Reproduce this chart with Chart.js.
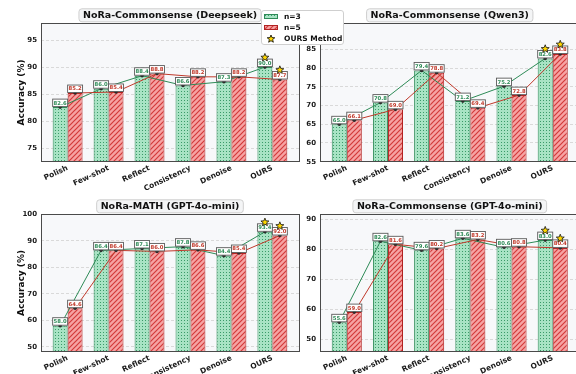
<!DOCTYPE html>
<html>
<head>
<meta charset="utf-8">
<script src="https://cdn.jsdelivr.net/npm/chart.js@4.4.1/dist/chart.umd.min.js"></script>
<style>
  html, body { margin: 0; padding: 0; background: #fff; width: 576px; height: 374px; overflow: hidden; position: relative; font-family: "DejaVu Sans", sans-serif; }
  canvas.panel { position: absolute; }
  #legend { position: absolute; left: 261px; top: 10px; width: 83px; height: 35px; box-sizing: border-box; background: #fff; border: 1px solid #cfcfcf; border-radius: 3px; z-index: 5; }
  #legend .row { position: absolute; left: 0; height: 10px; width: 100%; }
  #legend .sw { position: absolute; left: 2px; top: 2px; }
  #legend svg { position: absolute; left: 4px; top: 0px; }
  #legend span { position: absolute; left: 22px; top: -1px; font: bold 7.5px "DejaVu Sans", sans-serif; color: #111; line-height: 12px; white-space: nowrap; }
</style>
</head>
<body>
<canvas class="panel" id="c1"></canvas>
<canvas class="panel" id="c2"></canvas>
<canvas class="panel" id="c3"></canvas>
<canvas class="panel" id="c4"></canvas>
<div id="legend">
  <div class="row" style="top:1px"><canvas class="sw" id="swG" width="14" height="5"></canvas><span>n=3</span></div>
  <div class="row" style="top:12px"><canvas class="sw" id="swR" width="14" height="5"></canvas><span>n=5</span></div>
  <div class="row" style="top:23px"><svg width="10" height="10" viewBox="-5 -5 10 10"><polygon id="legendStar" fill="#FFD700" stroke="#000" stroke-width="0.8"></polygon></svg><span>OURS Method</span></div>
</div>
<script>
// Methods compared in every panel
const categories = ['Polish', 'Few-shot', 'Reflect', 'Consistency', 'Denoise', 'OURS'];
const seriesNames = ['n=3', 'n=5'];

// NoRa-Commonsense (Deepseek)
const deepseekN3 = [82.6, 86.0, 88.4, 86.6, 87.3, 90.0];
const deepseekN5 = [85.2, 85.4, 88.8, 88.2, 88.2, 87.7];
const deepseekTicks = [75, 80, 85, 90, 95];

// NoRa-Commonsense (Qwen3)
const qwenN3 = [65.0, 70.8, 79.4, 71.2, 75.2, 82.6];
const qwenN5 = [66.1, 69.0, 78.8, 69.4, 72.8, 83.8];
const qwenTicks = [55, 60, 65, 70, 75, 80, 85];

// NoRa-MATH (GPT-4o-mini)
const mathN3 = [58.0, 86.4, 87.1, 87.8, 84.4, 93.4];
const mathN5 = [64.6, 86.4, 86.0, 86.6, 85.4, 92.0];
const mathTicks = [50, 60, 70, 80, 90, 100];

// NoRa-Commonsense (GPT-4o-mini)
const gptN3 = [55.6, 82.6, 79.6, 83.6, 80.6, 83.0];
const gptN5 = [59.0, 81.6, 80.2, 83.2, 80.8, 80.4];
const gptTicks = [50, 60, 70, 80, 90];

const FONT = '"DejaVu Sans", sans-serif';
const GREEN = '#2e8b57';
const RED = '#c0392b';

// Dotted hatch for n=3 bars
function greenPattern() {
  const t = document.createElement('canvas');
  t.width = 3; t.height = 3;
  const g = t.getContext('2d');
  g.fillStyle = '#a8e3c4'; g.fillRect(0, 0, 3, 3);
  g.fillStyle = '#3a9a68'; g.fillRect(1, 1, 1, 1);
  return g.createPattern(t, 'repeat');
}
// Diagonal hatch for n=5 bars
function redPattern() {
  const t = document.createElement('canvas');
  t.width = 5; t.height = 5;
  const g = t.getContext('2d');
  g.fillStyle = '#f6a3a3'; g.fillRect(0, 0, 5, 5);
  g.strokeStyle = '#d23b3b'; g.lineWidth = 1.2;
  g.beginPath();
  g.moveTo(-1, 6); g.lineTo(6, -1);
  g.moveTo(-1, 1); g.lineTo(1, -1);
  g.moveTo(4, 6); g.lineTo(6, 4);
  g.stroke();
  return g.createPattern(t, 'repeat');
}

function starPath(ctx, cx, cy, ro, ri) {
  ctx.beginPath();
  for (let k = 0; k < 10; k++) {
    const r = k % 2 ? ri : ro;
    const a = -Math.PI / 2 + k * Math.PI / 5;
    const px = cx + r * Math.cos(a), py = cy + r * Math.sin(a);
    k ? ctx.lineTo(px, py) : ctx.moveTo(px, py);
  }
  ctx.closePath();
}

function roundRect(ctx, x, y, w, h, r) {
  ctx.beginPath();
  ctx.moveTo(x + r, y);
  ctx.lineTo(x + w - r, y); ctx.quadraticCurveTo(x + w, y, x + w, y + r);
  ctx.lineTo(x + w, y + h - r); ctx.quadraticCurveTo(x + w, y + h, x + w - r, y + h);
  ctx.lineTo(x + r, y + h); ctx.quadraticCurveTo(x, y + h, x, y + h - r);
  ctx.lineTo(x, y + r); ctx.quadraticCurveTo(x, y, x + r, y);
  ctx.closePath();
}

// Plot background, trend lines, value boxes, stars, frame and boxed title
function decorPlugin(title) {
  const lineColors = [GREEN, RED];
  const textColors = ['#2e8b57', '#c0392b'];
  return {
    id: 'decor',
    beforeDraw(chart) {
      const { ctx, chartArea: a } = chart;
      ctx.save();
      ctx.fillStyle = '#f7f8fa';
      ctx.fillRect(a.left, a.top, a.right - a.left, a.bottom - a.top);
      ctx.restore();
    },
    afterDatasetsDraw(chart) {
      const ctx = chart.ctx;
      ctx.save();
      // trend lines through the bar tops
      [0, 1].forEach(d => {
        const bars = chart.getDatasetMeta(d).data;
        ctx.strokeStyle = lineColors[d];
        ctx.lineWidth = 1;
        ctx.beginPath();
        bars.forEach((b, i) => i ? ctx.lineTo(b.x, b.y) : ctx.moveTo(b.x, b.y));
        ctx.stroke();
        bars.forEach(b => {
          ctx.beginPath();
          ctx.arc(b.x, b.y, 1.8, 0, Math.PI * 2);
          ctx.fillStyle = '#2a2a2a';
          ctx.fill();
        });
      });
      // value boxes
      [0, 1].forEach(d => {
        const bars = chart.getDatasetMeta(d).data;
        const vals = chart.data.datasets[d].data;
        bars.forEach((b, i) => {
          const w = b.width, h = 7.5;
          const x0 = b.x - w / 2, y0 = b.y - 0.5 - h;
          ctx.fillStyle = '#ffffff';
          ctx.fillRect(x0, y0, w, h);
          ctx.strokeStyle = '#5a5a5a';
          ctx.lineWidth = 0.9;
          ctx.strokeRect(x0, y0, w, h);
          ctx.fillStyle = textColors[d];
          ctx.font = 'bold 5.3px ' + FONT;
          ctx.textAlign = 'center';
          ctx.textBaseline = 'middle';
          ctx.fillText(vals[i].y.toFixed(1), b.x, y0 + h / 2 + 0.3);
          // star over the proposed method
          if (categories[vals[i].x] === 'OURS') {
            starPath(ctx, b.x, y0 - 1.5, 4.2, 1.8);
            ctx.fillStyle = '#FFD700';
            ctx.fill();
            ctx.strokeStyle = '#111';
            ctx.lineWidth = 0.8;
            ctx.stroke();
          }
        });
      });
      ctx.restore();
    },
    afterDraw(chart) {
      const { ctx, chartArea: a } = chart;
      ctx.save();
      ctx.strokeStyle = '#4a4a4a';
      ctx.lineWidth = 1;
      ctx.strokeRect(Math.round(a.left) + 0.5, Math.round(a.top) + 0.5,
                     Math.round(a.right - a.left), Math.round(a.bottom - a.top));
      ctx.font = 'bold 9.5px ' + FONT;
      const tw = ctx.measureText(title).width;
      const cx = (a.left + a.right) / 2, cy = a.top - 8;
      roundRect(ctx, cx - tw / 2 - 4, cy - 6.5, tw + 8, 13, 3);
      ctx.fillStyle = '#f4f5f6';
      ctx.fill();
      ctx.strokeStyle = '#cfcfcf';
      ctx.lineWidth = 1;
      ctx.stroke();
      ctx.fillStyle = '#111';
      ctx.textAlign = 'center';
      ctx.textBaseline = 'middle';
      ctx.fillText(title, cx, cy + 0.5);
      ctx.restore();
    }
  };
}

const panels = [
  { id: 'c1', title: 'NoRa-Commonsense (Deepseek)', n3: deepseekN3, n5: deepseekN5, ticks: deepseekTicks,
    yMin: 72.5, yMax: 98.1, yTitle: true,
    box: { left: 0, top: 0, w: 300, h: 192 }, area: { l: 41, t: 23.3, r: 299, b: 161.7 } },
  { id: 'c2', title: 'NoRa-Commonsense (Qwen3)', n3: qwenN3, n5: qwenN5, ticks: qwenTicks,
    yMin: 55, yMax: 92, yTitle: false,
    box: { left: 290, top: 0, w: 300, h: 192 }, area: { l: 320, t: 23.3, r: 579.5, b: 161.7 } },
  { id: 'c3', title: 'NoRa-MATH (GPT-4o-mini)', n3: mathN3, n5: mathN5, ticks: mathTicks,
    yMin: 48.2, yMax: 100, yTitle: true,
    box: { left: 0, top: 187, w: 300, h: 187 }, area: { l: 41, t: 214.3, r: 299, b: 351.7 } },
  { id: 'c4', title: 'NoRa-Commonsense (GPT-4o-mini)', n3: gptN3, n5: gptN5, ticks: gptTicks,
    yMin: 45.8, yMax: 91.6, yTitle: false,
    box: { left: 290, top: 187, w: 300, h: 187 }, area: { l: 320, t: 214.3, r: 579.5, b: 351.7 } }
];

const gPat = greenPattern();
const rPat = redPattern();

panels.forEach(p => {
  const cv = document.getElementById(p.id);
  cv.width = p.box.w; cv.height = p.box.h;
  cv.style.left = p.box.left + 'px'; cv.style.top = p.box.top + 'px';
  const toPoints = arr => arr.map((v, i) => ({ x: i, y: v }));
  new Chart(cv.getContext('2d'), {
    type: 'bar',
    data: {
      datasets: [
        { label: seriesNames[0], data: toPoints(p.n3), backgroundColor: gPat, borderColor: GREEN,
          borderWidth: 1, borderSkipped: false, categoryPercentage: 0.73, barPercentage: 1.0 },
        { label: seriesNames[1], data: toPoints(p.n5), backgroundColor: rPat, borderColor: '#b22222',
          borderWidth: 1, borderSkipped: false, categoryPercentage: 0.73, barPercentage: 1.0 }
      ]
    },
    options: {
      responsive: false,
      animation: false,
      devicePixelRatio: 1,
      layout: {
        autoPadding: false,
        padding: { left: 0, top: p.area.t - p.box.top, right: p.box.left + p.box.w - p.area.r, bottom: 0 }
      },
      plugins: { legend: { display: false }, tooltip: { enabled: false }, title: { display: false } },
      scales: {
        x: {
          type: 'linear', min: -0.65, max: categories.length - 0.35, offset: false,
          grid: { display: false, drawTicks: false }, border: { display: false },
          afterBuildTicks: s => { s.ticks = categories.map((c, i) => ({ value: i })); },
          afterFit: s => { s.height = p.box.top + p.box.h - p.area.b; },
          ticks: {
            autoSkip: false, minRotation: 25, maxRotation: 25, padding: 2,
            color: '#1a1a1a', font: { family: FONT, weight: 'bold', size: 7.5 },
            callback: v => categories[v] ?? ''
          }
        },
        y: {
          min: p.yMin, max: p.yMax,
          afterBuildTicks: s => { s.ticks = p.ticks.map(v => ({ value: v })); },
          afterFit: s => { s.width = p.area.l - p.box.left; },
          grid: { color: '#d0d0d0', lineWidth: 0.8, drawTicks: false },
          border: { display: false, dash: [3, 2] },
          ticks: { padding: 4, color: '#1a1a1a', font: { family: FONT, weight: 'bold', size: 7 } },
          title: {
            display: p.yTitle, text: 'Accuracy (%)', color: '#111',
            font: { family: FONT, weight: 'bold', size: 9 }, padding: { top: 16.5, bottom: 0 }
          }
        }
      }
    },
    plugins: [decorPlugin(p.title)]
  });
});

// legend swatches and star
(function () {
  const g = document.getElementById('swG').getContext('2d');
  g.fillStyle = gPat; g.fillRect(0, 0, 14, 5);
  g.strokeStyle = GREEN; g.lineWidth = 1; g.strokeRect(0.5, 0.5, 13, 4);
  const r = document.getElementById('swR').getContext('2d');
  r.fillStyle = rPat; r.fillRect(0, 0, 14, 5);
  r.strokeStyle = '#b22222'; r.lineWidth = 1; r.strokeRect(0.5, 0.5, 13, 4);
  const pts = [];
  for (let k = 0; k < 10; k++) {
    const rr = k % 2 ? 1.7 : 4;
    const a = -Math.PI / 2 + k * Math.PI / 5;
    pts.push((rr * Math.cos(a)).toFixed(2) + ',' + (rr * Math.sin(a)).toFixed(2));
  }
  document.getElementById('legendStar').setAttribute('points', pts.join(' '));
})();
</script>
</body>
</html>
